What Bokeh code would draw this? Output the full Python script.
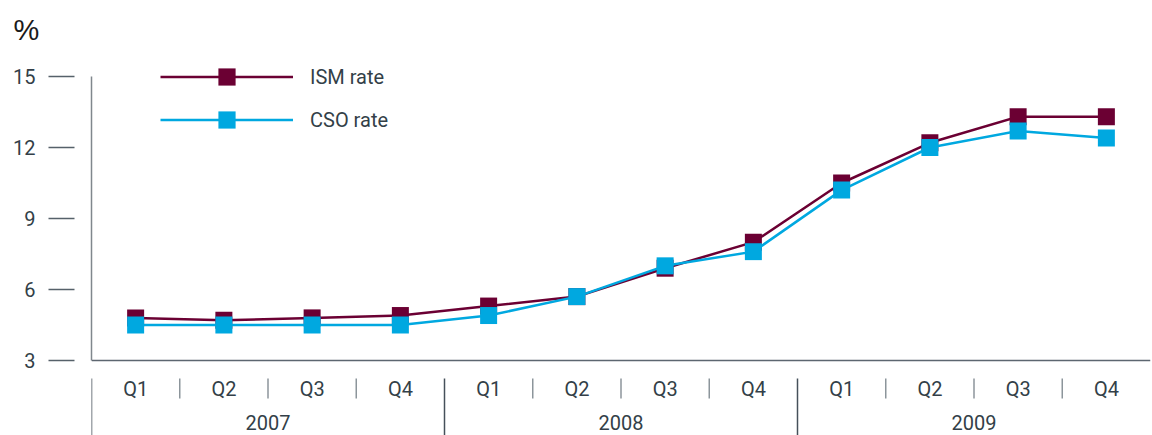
from bokeh.plotting import figure
from bokeh.models import (Range1d, FixedTicker, Legend, LegendItem, Span)
from bokeh.core.properties import value
from bokeh.embed import file_html
from bokeh.resources import INLINE

# ---- data ----
years = ["2007", "2008", "2009"]
quarters = ["Q1", "Q2", "Q3", "Q4"]
ism_rate = [4.8, 4.7, 4.8, 4.9, 5.3, 5.7, 6.9, 8.0, 10.5, 12.2, 13.3, 13.3]
cso_rate = [4.5, 4.5, 4.5, 4.5, 4.9, 5.7, 7.0, 7.6, 10.2, 12.0, 12.7, 12.4]
y_ticks = [3, 6, 9, 12, 15]

FONT = "Roboto"
TXT = "#333f48"
ISM_C = "#6b0033"
CSO_C = "#00a8e0"
FS = "20px"

labels_q = [q for y in years for q in quarters]
xs = list(range(len(labels_q)))

W, H = 1152, 435
LEFT, TOP = 91, 55
PX = 71 / 3.0          # pixels per unit on the y axis
Y0, Y1 = y_ticks[0], y_ticks[-1]
y_lo = Y0 - 75 / PX
y_hi = Y1 + 21 / PX
FRAME_H = H - TOP

p = figure(width=W, height=H, x_range=Range1d(-0.5, len(xs) - 0.5),
           y_range=Range1d(y_lo, y_hi),
           output_backend="svg", toolbar_location=None,
           min_border_left=LEFT, min_border_right=2, min_border_top=TOP,
           min_border_bottom=0, x_axis_type=None)
p.outline_line_color = None
p.xgrid.visible = False
p.ygrid.visible = False

p.title.text = "%"
p.title.align = "left"
p.title.offset = -78
p.title.text_font = "Liberation Sans"
p.title.text_font_size = "29px"
p.title.text_font_style = "normal"
p.title.text_color = "#1a1a1a"
if "standoff" in p.title.properties():
    p.title.standoff = 20

ax = p.yaxis[0]
ax.ticker = FixedTicker(ticks=y_ticks)
ax.bounds = (Y0, Y1)
ax.axis_line_color = "#80878d"
ax.axis_line_width = 1.5
ax.major_tick_in = -17
ax.major_tick_out = 43
ax.major_tick_line_color = "#56616a"
ax.major_tick_line_width = 1.5
ax.minor_tick_line_color = None
ax.major_label_standoff = 13
ax.major_label_text_font = FONT
ax.major_label_text_font_size = FS
ax.major_label_text_color = TXT

p.add_layout(Span(location=Y0, dimension="width", line_color="#5d6670", line_width=1.5))

l1 = p.line(xs, ism_rate, line_color=ISM_C, line_width=2.5)
s1 = p.scatter(xs, ism_rate, marker="square", size=17, fill_color=ISM_C, line_color=None)
l2 = p.line(xs, cso_rate, line_color=CSO_C, line_width=2.5)
s2 = p.scatter(xs, cso_rate, marker="square", size=17, fill_color=CSO_C, line_color=None)

legend = Legend(items=[LegendItem(label="ISM rate", renderers=[l1, s1]),
                       LegendItem(label="CSO rate", renderers=[l2, s2])],
                location=(69, FRAME_H - 86), glyph_width=133, glyph_height=43,
                spacing=0, padding=0, margin=0, label_standoff=17,
                label_text_font=FONT, label_text_font_size=FS,
                label_text_color=TXT, background_fill_alpha=0,
                border_line_color=None)
p.add_layout(legend)

# ---- two-level category axis drawn below the frame line ----
q_sep = [i + 0.5 for i in xs[:-1] if (i + 1) % len(quarters) != 0]
y_sep = [-0.5] + [i + 0.5 for i in xs[:-1] if (i + 1) % len(quarters) == 0]
p.segment(x0=q_sep, x1=q_sep, y0=Y0 - 18 / PX, y1=Y0 - 38 / PX,
          line_color="#8c959b", line_width=1.5)
p.segment(x0=y_sep, x1=y_sep, y0=Y0 - 18 / PX, y1=y_lo,
          line_color="#46505a", line_width=1.5)

p.text(x=xs, y=[Y0] * len(xs), text=labels_q, y_offset=28, text_align="center",
       text_baseline="middle", text_font=value(FONT), text_font_size=FS, text_color=TXT)
year_x = [sum(xs[i * len(quarters):(i + 1) * len(quarters)]) / len(quarters)
          for i in range(len(years))]
p.text(x=year_x, y=[Y0] * len(years), text=years, y_offset=62, text_align="center",
       text_baseline="middle", text_font=value(FONT), text_font_size=FS, text_color=TXT)

open("out.html", "w").write(file_html(p, INLINE))
